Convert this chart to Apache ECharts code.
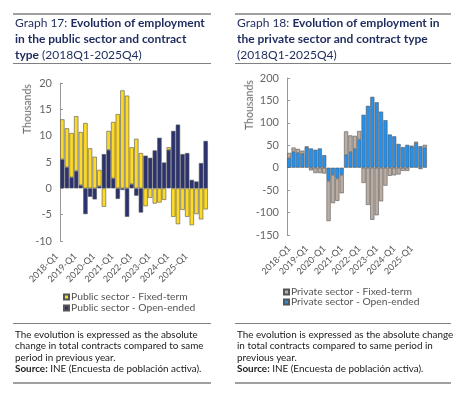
<!DOCTYPE html>
<html>
<head>
<meta charset="utf-8">
<script src="https://cdn.jsdelivr.net/npm/echarts@6/dist/echarts.min.js"></script>
<style>
  body { margin: 0; background: #fff; font-family: Lato, "Noto Sans", sans-serif; }
  #main { position: absolute; left: 0; top: 0; width: 465px; height: 401px; }
  .title { position: absolute; top: 13px; border-top: 2px solid #a0a0a0; border-bottom: 1px solid #808080;
           font-size: 12px; line-height: 16px; color: #1e2b5e; white-space: nowrap; padding-left: 2px; height: 48px; }
  .title b { font-weight: 700; }
  .note { position: absolute; top: 323px; border-top: 1px solid #808080; border-bottom: 2px solid #a0a0a0;
          font-size: 9.9px; line-height: 11.4px; color: #1a1a1a; white-space: nowrap; padding: 5px 2px 0 2px; height: 53px; }
  .yname { position: absolute; font-size: 10.5px; color: #666; transform: rotate(-90deg); transform-origin: center; white-space: nowrap; }
</style>
</head>
<body>
<div id="main"></div>
<div class="title" style="left:13px;width:196px">Graph 17: <b>Evolution of employment</b><br><b>in the public sector and contract</b><br><b>type</b> (2018Q1-2025Q4)</div>
<div class="title" style="left:235px;width:214px">Graph 18: <b>Evolution of employment in</b><br><b>the private sector and contract type</b><br>(2018Q1-2025Q4)</div>
<div class="yname" style="left:2px;top:103px">Thousands</div>
<div class="yname" style="left:224px;top:99px">Thousands</div>
<div class="note" style="left:13px;width:194px">The evolution is expressed as the absolute<br>change in total contracts compared to same<br>period in previous year.<br><b>Source:</b> INE (Encuesta de población activa).</div>
<div class="note" style="left:235px;width:212px">The evolution is expressed as the absolute change<br>in total contracts compared to same period in<br>previous year.<br><b>Source:</b> INE (Encuesta de población activa).</div>
<script>
var chartDom = document.getElementById('main');
var myChart = echarts.init(chartDom);

// quarters 2018Q1 .. 2025Q4
var years = ['2018', '2019', '2020', '2021', '2022', '2023', '2024', '2025'];
var quarters = [];
years.forEach(function (y) {
    for (var q = 1; q <= 4; q++) quarters.push(y + '-Q' + q);
});

// Graph 17, thousands
var publicOpenEnded = [5.5, 4.0, 2.1, 3.3, 0.6, -4.9, -1.6, -2.1, 0.4, 6.5, 7.3, 1.9, -2.0, -0.3, -5.4, 0.8,
    -1.4, -4.6, 6.2, 5.8, 7.2, 9.6, 4.9, 7.3, 10.9, 12.1, 6.5, 6.7, 1.6, 1.3, 4.8, 9.0];
var publicFixedTerm = [7.6, 7.4, 8.4, 10.4, 10.1, 12.4, 7.6, 6.0, 3.1, -3.5, 3.6, 10.7, 14.1, 18.6, 17.6, 7.0,
    9.4, 6.7, -3.4, -1.8, -2.9, -2.7, -2.2, 0.5, -5.4, -6.8, -4.1, -5.4, -7.0, -4.9, -5.9, -4.0];

// Graph 18, thousands
var privateOpenEnded = [21, 36, 33, 31, 46, 43, 40, 43, 28, -29, -16, -24, -16, 29, 35, 42,
    63, 118, 138, 158, 146, 125, 106, 74, 70, 53, 46, 51, 47, 55, 48, 45];
var privateFixedTerm = [12, 9, 9, 7, 1, -6, -12, -12, -13, -90, -63, -50, -41, 52, 37, 29,
    19, -34, -83, -116, -106, -75, -40, -18, -17, -15, -7, -7, 2, 3, -3, 6];

var names = {
    pubFixed: 'Public sector - Fixed-term',
    pubOpen: 'Public sector - Open-ended',
    priFixed: 'Private sector - Fixed-term',
    priOpen: 'Private sector - Open-ended'
};

function xAxisFor(gridIndex, margin, shift) {
    return {
        type: 'category', gridIndex: gridIndex, data: quarters,
        axisLine: { show: false, onZero: false },
        axisTick: { show: false },
        axisLabel: {
            interval: 3, rotate: 45, fontSize: 9, color: '#555', margin: margin,
            padding: [0, shift, 0, 0], fontFamily: 'Lato'
        }
    };
}

function yAxisFor(gridIndex, min, max, interval) {
    return {
        type: 'value', gridIndex: gridIndex, min: min, max: max, interval: interval,
        splitLine: { show: false },
        axisLine: { show: true, lineStyle: { color: '#999', width: 1 } },
        axisTick: { show: true, inside: true, length: 3, lineStyle: { color: '#999' } },
        axisLabel: { fontSize: 11, color: '#666', margin: 8, fontFamily: 'Lato' }
    };
}

function barSeries(name, data, color, idx, stack) {
    return {
        name: name, type: 'bar', stack: stack, data: data,
        xAxisIndex: idx, yAxisIndex: idx,
        barCategoryGap: '6%',
        itemStyle: { color: color, borderColor: '#555', borderWidth: 0.6 }
    };
}

var legendStyle = { fontSize: 10.3, color: '#555', fontFamily: 'Lato', padding: [0, 0, 0, -3] };

var option = {
    animation: false,
    grid: [
        { left: 60, top: 83, width: 148, height: 158 },
        { left: 287, top: 78, width: 140, height: 157 }
    ],
    xAxis: [xAxisFor(0, 8, 8), xAxisFor(1, 12, 0)],
    yAxis: [yAxisFor(0, -10, 20, 5), yAxisFor(1, -150, 200, 50)],
    legend: [
        {
            data: [names.pubFixed, names.pubOpen], orient: 'vertical', left: 58, top: 287,
            icon: 'rect', itemWidth: 5, itemHeight: 5, itemGap: 1, textStyle: legendStyle
        },
        {
            data: [names.priFixed, names.priOpen], orient: 'vertical', left: 278, top: 282,
            icon: 'rect', itemWidth: 5, itemHeight: 5, itemGap: 0, textStyle: legendStyle
        }
    ],
    series: [
        barSeries(names.pubOpen, publicOpenEnded, '#2b3270', 0, 'pub'),
        barSeries(names.pubFixed, publicFixedTerm, '#fdd928', 0, 'pub'),
        barSeries(names.priOpen, privateOpenEnded, '#2591ec', 1, 'pri'),
        barSeries(names.priFixed, privateFixedTerm, '#bcada2', 1, 'pri')
    ]
};
option && myChart.setOption(option);
</script>
</body>
</html>
